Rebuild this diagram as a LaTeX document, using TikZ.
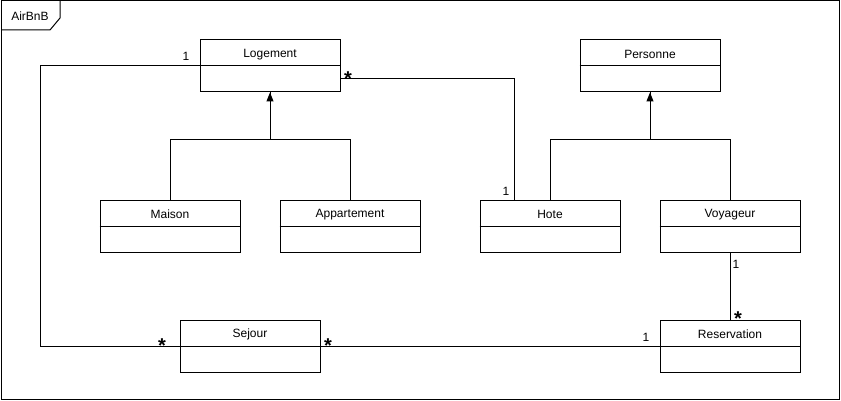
\documentclass[tikz,border=0pt]{standalone}
\usepackage{fontspec}
\setmainfont{Liberation Sans}
\usetikzlibrary{arrows.meta,calc}
\tikzset{
  cls/.style={draw, line width=1pt, minimum width=140pt, minimum height=52pt, inner sep=0pt},
  lbl/.style={font=\fontsize{12}{14}\selectfont, inner sep=0pt},
  mult/.style={font=\fontsize{12}{14}\selectfont, inner sep=0pt},
  star/.style={font=\fontsize{20}{20}\selectfont\bfseries, inner sep=0pt},
  conn/.style={line width=1pt},
  inh/.style={line width=1pt, -{Triangle[width=7pt,length=9pt]}},
}
\newcommand{\umlclass}[4]{%
  \node[cls] (#1) at (#2,#3) {};
  \draw[line width=1pt] (#1.west) -- (#1.east);
  \node[lbl] (#1-t) at ($(#1.north)+(0,15)$) {#4};
}
\begin{document}
\begin{tikzpicture}[x=1pt,y=-1pt]
\useasboundingbox (0,0) rectangle (841,401);
% frame
\draw[line width=1pt] (1,1) rectangle (839,399);
\coordinate (f1) at (60,1);
\coordinate (f2) at (60,18);
\coordinate (f3) at (50,30);
\coordinate (f4) at (1,30);
\draw[line width=1pt] (f1) -- (f2) -- (f3) -- (f4);
\node[lbl] (frame-t) at (30,16) {AirBnB};
% classes
\umlclass{logement}{270}{66}{Logement}
\umlclass{personne}{650}{66}{Personne}
\umlclass{maison}{170}{226}{Maison}
\umlclass{appart}{350}{226}{Appartement}
\umlclass{hote}{550}{226}{Hote}
\umlclass{voyageur}{730}{226}{Voyageur}
\umlclass{sejour}{250}{346}{Sejour}
\umlclass{resa}{730}{346}{Reservation}
% inheritance
\draw[inh] (maison.north) -- ++(0,-60) -| (logement.south);
\draw[conn] (appart.north) -- ++(0,-60) -| (logement.south);
\draw[inh] (hote.north) -- ++(0,-60) -| (personne.south);
\draw[conn] (voyageur.north) -- ++(0,-60) -| (personne.south);
% associations
\coordinate (lh) at ($(logement.east)+(0,13)$);
\coordinate (hotetop) at ($(hote.north west)+(35,0)$);
\draw[conn] (lh) -| (hotetop);
\coordinate (ls) at (40,66);
\draw[conn] (logement.west) -- (ls) |- (sejour.west);
\draw[conn] (sejour.east) -- (resa.west);
\draw[conn] (voyageur.south) -- (resa.north);
% multiplicities
\node[mult] (m1) at (186,56) {1};
\node[star] (m2) at (348,78.5) {*};
\node[mult] (m3) at (506,191) {1};
\node[star] (m4) at (162,345.5) {*};
\node[star] (m5) at (328,345.5) {*};
\node[mult] (m6) at (646,337) {1};
\node[mult] (m7) at (736,264) {1};
\node[star] (m8) at (738,318.5) {*};
\end{tikzpicture}
\end{document}
